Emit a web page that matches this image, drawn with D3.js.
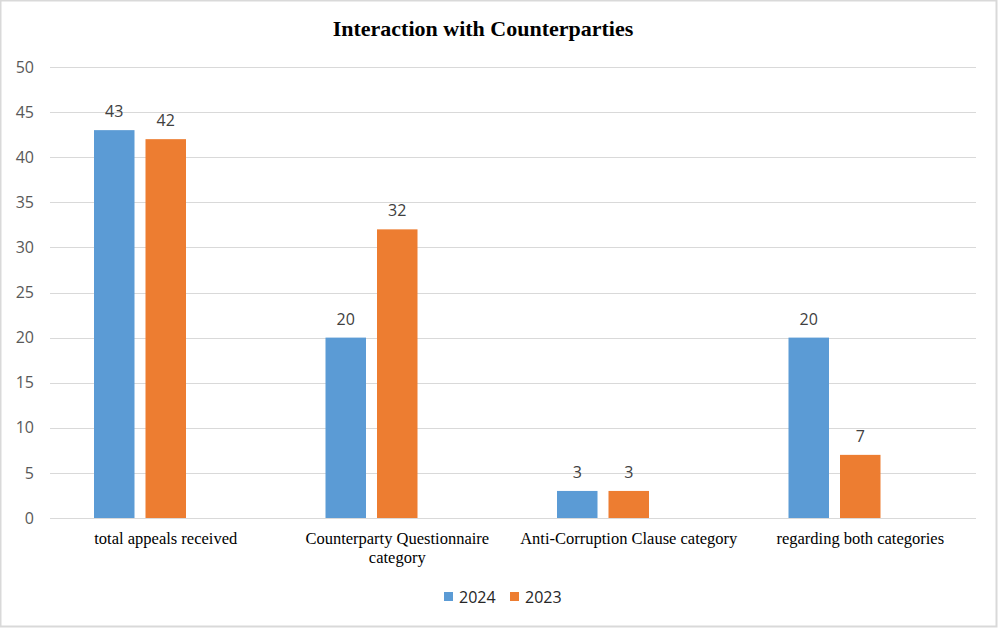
<!DOCTYPE html>
<html>
<head>
<meta charset="utf-8">
<script src="https://cdn.jsdelivr.net/npm/d3@7"></script>
<style>
  body { margin: 0; background: #fff; }
  svg { display: block; }
</style>
</head>
<body>
<svg id="chart" width="999" height="629"></svg>
<script>
const categories = [
  ["total appeals received"],
  ["Counterparty Questionnaire", "category"],
  ["Anti-Corruption Clause category"],
  ["regarding both categories"]
];
const seriesNames = ["2024", "2023"];
const values2024 = [43, 20, 3, 20];
const values2023 = [42, 32, 3, 7];
const yTicks = [0, 5, 10, 15, 20, 25, 30, 35, 40, 45, 50];
const colors = ["#5b9bd5", "#ed7d31"];

const W = 999, H = 629;
const margin = { top: 67, right: 23, bottom: 111, left: 50 };
const innerW = W - margin.left - margin.right;
const innerH = H - margin.top - margin.bottom;

const svg = d3.select("#chart");

// outer frame
svg.append("rect")
  .attr("x", 0.5).attr("y", 0.5)
  .attr("width", W - 3).attr("height", H - 3)
  .attr("fill", "#fff")
  .attr("stroke", "#d9d9d9")
  .attr("stroke-width", 2);

// title
svg.append("text")
  .attr("x", 483)
  .attr("y", 36)
  .attr("text-anchor", "middle")
  .style("font-family", "'Liberation Serif', 'Times New Roman', serif")
  .style("font-weight", "bold")
  .style("font-size", "22px")
  .attr("fill", "#000")
  .text("Interaction with Counterparties");

const g = svg.append("g")
  .attr("transform", `translate(${margin.left}, ${margin.top})`);

const idx = categories.map((d, i) => i);

const x0 = d3.scaleBand()
  .domain(idx)
  .range([0, innerW])
  .padding(0);

// three slots per category (the third one is empty in the source chart)
const x1 = d3.scaleBand()
  .domain([0, 1, 2])
  .range([44, x0.bandwidth() - 44])
  .paddingInner(0.2136);

const y = d3.scaleLinear()
  .domain([0, 50])
  .range([innerH, 0]);

// gridlines
g.append("g")
  .selectAll("line")
  .data(yTicks)
  .join("line")
  .attr("x1", 0)
  .attr("x2", innerW)
  .attr("y1", d => Math.round(y(d)) + 0.5)
  .attr("y2", d => Math.round(y(d)) + 0.5)
  .attr("stroke", "#d9d9d9")
  .attr("stroke-width", 1);

// y axis labels
const yAxis = g.append("g")
  .call(d3.axisLeft(y).tickValues(yTicks).tickSize(0).tickPadding(16));
yAxis.select(".domain").remove();
yAxis.selectAll("text")
  .style("font-family", "'Open Sans', 'Liberation Sans', sans-serif")
  .style("font-size", "16px")
  .attr("fill", "#595959");

const series = [values2024, values2023];

// bars
series.forEach((vals, s) => {
  g.append("g")
    .selectAll("rect")
    .data(vals)
    .join("rect")
    .attr("x", (d, i) => x0(i) + x1(s))
    .attr("y", d => y(d))
    .attr("width", x1.bandwidth())
    .attr("height", d => innerH - y(d))
    .attr("fill", colors[s]);

  // data labels
  g.append("g")
    .selectAll("text")
    .data(vals)
    .join("text")
    .attr("x", (d, i) => x0(i) + x1(s) + x1.bandwidth() / 2)
    .attr("y", d => y(d) - 13)
    .attr("text-anchor", "middle")
    .style("font-family", "'Open Sans', 'Liberation Sans', sans-serif")
    .style("font-size", "16px")
    .attr("fill", "#404040")
    .text(d => d);
});

// category labels
const xAxis = g.append("g")
  .attr("transform", `translate(0, ${innerH})`);
categories.forEach((lines, i) => {
  const t = xAxis.append("text")
    .attr("x", x0(i) + x0.bandwidth() / 2)
    .attr("y", 26)
    .attr("text-anchor", "middle")
    .style("font-family", "'Liberation Serif', 'Times New Roman', serif")
    .style("font-size", "16.5px")
    .attr("fill", "#000");
  lines.forEach((line, k) => {
    t.append("tspan")
      .attr("x", x0(i) + x0.bandwidth() / 2)
      .attr("dy", k === 0 ? 0 : 19)
      .text(line);
  });
});

// legend
const legendPos = [444, 510];
const legend = svg.append("g");
seriesNames.forEach((name, s) => {
  legend.append("rect")
    .attr("x", legendPos[s])
    .attr("y", 592)
    .attr("width", 9)
    .attr("height", 9)
    .attr("fill", colors[s]);
  legend.append("text")
    .attr("x", legendPos[s] + 15)
    .attr("y", 603)
    .style("font-family", "'Open Sans', 'Liberation Sans', sans-serif")
    .style("font-size", "16px")
    .attr("fill", "#262626")
    .text(name);
});
</script>
</body>
</html>
